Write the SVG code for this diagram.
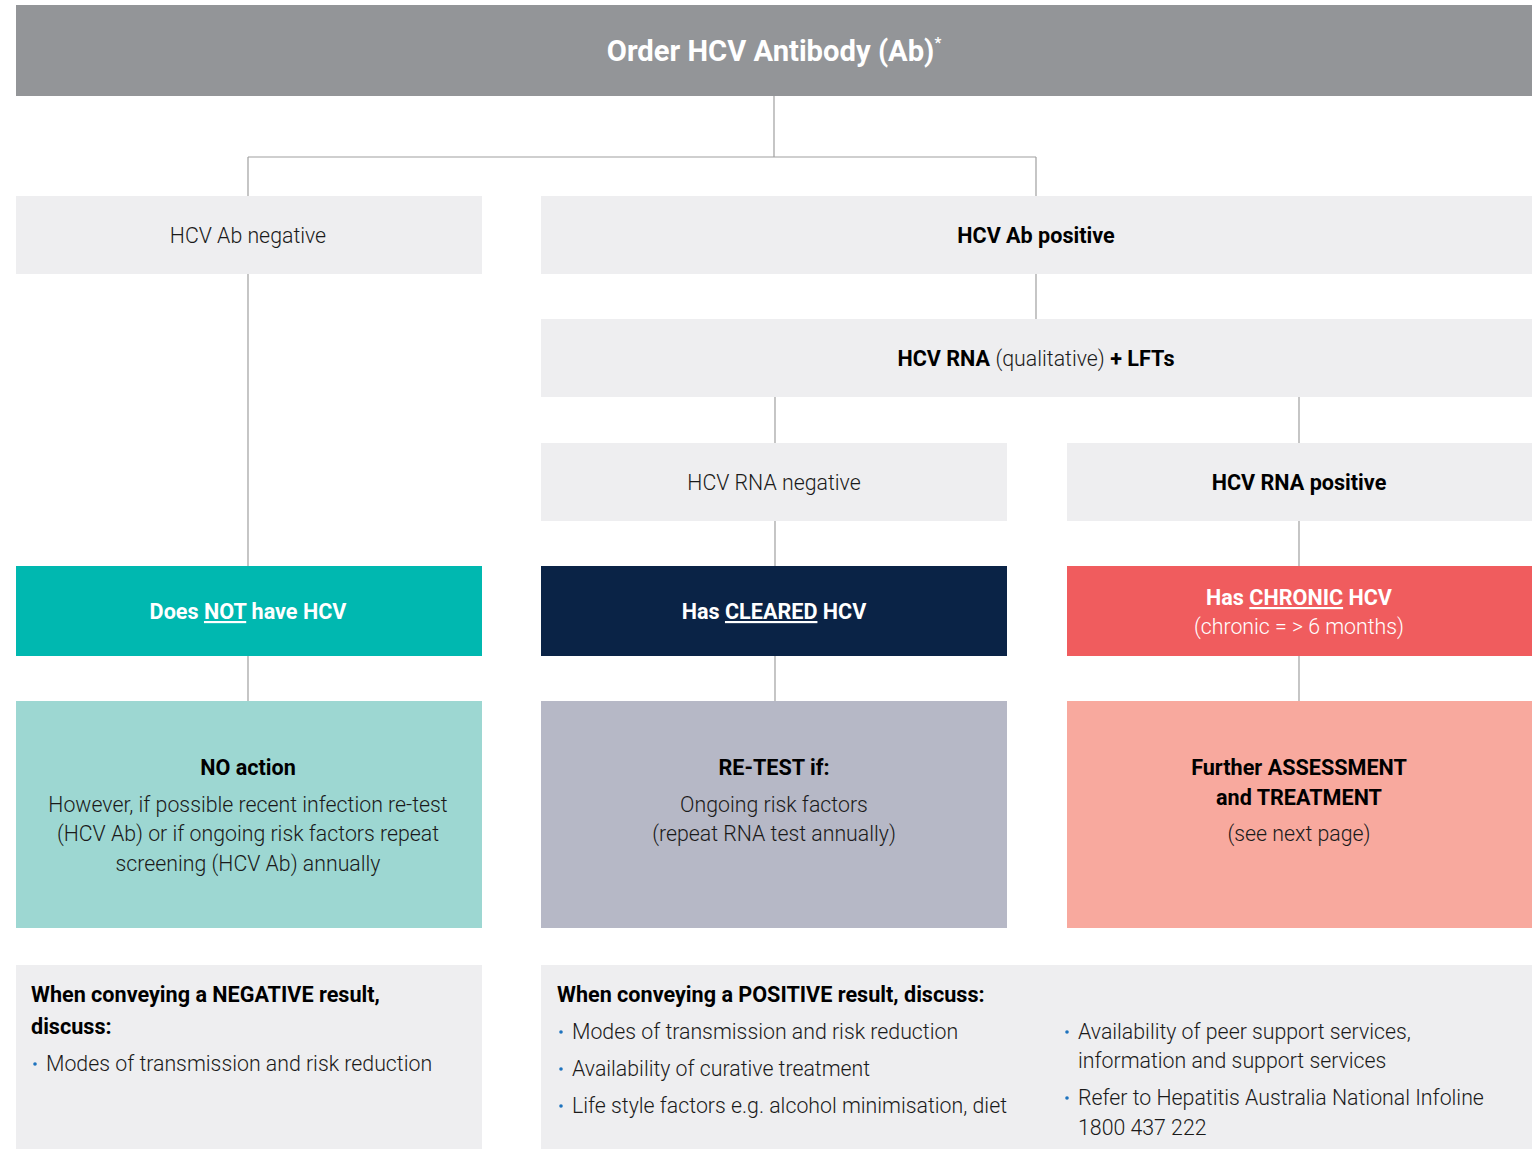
<svg xmlns="http://www.w3.org/2000/svg" width="1537" height="1149" viewBox="0 0 1537 1149">
<style>
text{font-family:Roboto,"Liberation Sans",sans-serif;font-size:21.3px;text-anchor:middle;fill:#1a1a1a}
.l{font-weight:300}
.b{font-weight:700;fill:#000;font-size:21.6px}
.w{fill:#fff}
.s{text-anchor:start}
.dot{fill:#1e73be}
.g{fill:#eeeef0}
</style>
<rect width="1537" height="1149" fill="#fff"/>
<g id="connectors" stroke="#a0a0a0" stroke-width="1.2" fill="none">
<path d="M774 96V157M248 157H1036M248 157V196M1036 157V196"/>
<path d="M248 274V566M1036 274V319M775 397V443M1299 397V443M775 521V566M1299 521V566"/>
<path d="M248 656V701M775 656V701M1299 656V701"/>
</g>
<g id="header"><rect x="16" y="5" width="1516" height="91" fill="#939598"/>
<text x="774" y="61" class="b w" style="font-size:29.2px;fill:#fff">Order HCV Antibody (Ab)<tspan dy="-13" style="font-size:15px">*</tspan></text></g>
<g id="ab-neg"><rect x="16" y="196" width="466" height="78" class="g"/><text x="248" y="243" class="l">HCV Ab negative</text></g>
<g id="ab-pos"><rect x="541" y="196" width="991" height="78" class="g"/><text x="1036" y="243" class="b">HCV Ab positive</text></g>
<g id="rna"><rect x="541" y="319" width="991" height="78" class="g"/><text x="1036" y="366" class="b">HCV RNA <tspan style="font-weight:300;fill:#1a1a1a;font-size:21.3px">(qualitative)</tspan> + LFTs</text></g>
<g id="rna-neg"><rect x="541" y="443" width="466" height="78" class="g"/><text x="774" y="490" class="l">HCV RNA negative</text></g>
<g id="rna-pos"><rect x="1067" y="443" width="465" height="78" class="g"/><text x="1299" y="490" class="b">HCV RNA positive</text></g>
<g id="not-hcv"><rect x="16" y="566" width="466" height="90" fill="#00b8b0"/><text x="248" y="619" class="b" style="fill:#fff">Does <tspan text-decoration="underline">NOT</tspan> have HCV</text></g>
<g id="cleared"><rect x="541" y="566" width="466" height="90" fill="#0a2346"/><text x="774" y="619" class="b" style="fill:#fff">Has <tspan text-decoration="underline">CLEARED</tspan> HCV</text></g>
<g id="chronic"><rect x="1067" y="566" width="465" height="90" fill="#f05c5e"/><text x="1299" y="605" class="b" style="fill:#fff">Has <tspan text-decoration="underline">CHRONIC</tspan> HCV</text><text x="1299" y="634" class="l" style="fill:#fff">(chronic = &gt; 6 months)</text></g>
<g id="no-action"><rect x="16" y="701" width="466" height="227" fill="#9dd7d2"/>
<text x="248" y="775" class="b">NO action</text>
<text x="248" y="812" class="l">However, if possible recent infection re-test</text>
<text x="248" y="841" class="l">(HCV Ab) or if ongoing risk factors repeat</text>
<text x="248" y="871" class="l">screening (HCV Ab) annually</text></g>
<g id="retest"><rect x="541" y="701" width="466" height="227" fill="#b6b8c6"/>
<text x="774" y="775" class="b">RE-TEST if:</text>
<text x="774" y="812" class="l">Ongoing risk factors</text>
<text x="774" y="841" class="l">(repeat RNA test annually)</text></g>
<g id="assessment"><rect x="1067" y="701" width="465" height="227" fill="#f8a99e"/>
<text x="1299" y="775" class="b">Further ASSESSMENT</text>
<text x="1299" y="805" class="b">and TREATMENT</text>
<text x="1299" y="841" class="l">(see next page)</text></g>
<g id="neg-discuss"><rect x="16" y="965" width="466" height="184" class="g"/>
<text x="31" y="1002" class="b s">When conveying a NEGATIVE result,</text>
<text x="31" y="1034" class="b s">discuss:</text>
<circle cx="35" cy="1064" r="1.8" class="dot"/>
<text x="46" y="1071" class="l s">Modes of transmission and risk reduction</text></g>
<g id="pos-discuss"><rect x="541" y="965" width="991" height="184" class="g"/>
<text x="557" y="1002" class="b s">When conveying a POSITIVE result, discuss:</text>
<circle cx="561" cy="1032" r="1.8" class="dot"/>
<text x="572" y="1039" class="l s">Modes of transmission and risk reduction</text>
<circle cx="561" cy="1069" r="1.8" class="dot"/>
<text x="572" y="1076" class="l s">Availability of curative treatment</text>
<circle cx="561" cy="1106" r="1.8" class="dot"/>
<text x="572" y="1113" class="l s">Life style factors e.g. alcohol minimisation, diet</text>
<circle cx="1067" cy="1032" r="1.8" class="dot"/>
<text x="1078" y="1039" class="l s">Availability of peer support services,</text>
<text x="1078" y="1068" class="l s">information and support services</text>
<circle cx="1067" cy="1098" r="1.8" class="dot"/>
<text x="1078" y="1105" class="l s">Refer to Hepatitis Australia National Infoline</text>
<text x="1078" y="1135" class="l s">1800 437 222</text></g>
</svg>
